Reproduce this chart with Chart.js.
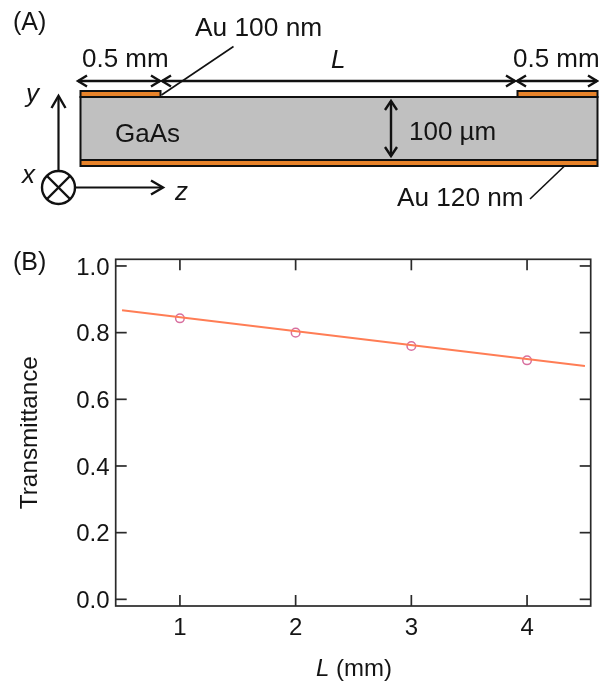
<!DOCTYPE html>
<html>
<head>
<meta charset="utf-8">
<style>
    html, body { margin: 0; padding: 0; background: #fff; }
    canvas { display: block; }
</style>
<script src="https://cdn.jsdelivr.net/npm/chart.js@4"></script>
</head>
<body>
<canvas id="myChart" width="599" height="681"></canvas>
<script>
const measured_L = [1, 2, 3, 4];
const measured_T = [0.843, 0.80, 0.76, 0.717];
const fit_L = [0.5, 4.5];
const fit_T = [0.867, 0.70];
const x_ticks = [1, 2, 3, 4];
const y_ticks = [0, 0.2, 0.4, 0.6, 0.8, 1.0];

const FONT = '"Liberation Sans", Arial, sans-serif';
const INK = "#141414";
const ORANGE = "#e8832a";

function toPoints(xs, ys) {
    return xs.map((x, i) => ({ x: x, y: ys[i] }));
}

function line(ctx, x1, y1, x2, y2, w) {
    ctx.lineWidth = w;
    ctx.beginPath();
    ctx.moveTo(x1, y1);
    ctx.lineTo(x2, y2);
    ctx.stroke();
}

// open arrow head, tip at x,y, pointing along dx,dy
function head(ctx, x, y, dx, dy, len, half) {
    let px = -dy, py = dx;
    ctx.lineWidth = 2.4;
    ctx.beginPath();
    ctx.moveTo(x - dx * len + px * half, y - dy * len + py * half);
    ctx.lineTo(x, y);
    ctx.lineTo(x - dx * len - px * half, y - dy * len - py * half);
    ctx.stroke();
}

function text(ctx, str, x, y, size, italic) {
    ctx.font = (italic ? "italic " : "") + size + "px " + FONT;
    ctx.fillText(str, x, y);
}

function drawSample(ctx) {
    ctx.strokeStyle = "#111";
    ctx.fillStyle = "#c0c0c0";
    ctx.fillRect(80, 97, 518, 63);

    ctx.fillStyle = ORANGE;
    ctx.fillRect(80, 160, 518, 5);
    ctx.fillRect(81, 92, 79, 4);
    ctx.fillRect(518, 92, 79, 4);

    ctx.lineWidth = 2;
    ctx.strokeRect(80.5, 97, 517, 69);
    line(ctx, 80, 160, 598, 160, 2);
    ctx.strokeRect(80.5, 91, 80, 6);
    ctx.strokeRect(517.5, 91, 80, 6);

    // dimension arrows
    line(ctx, 78, 81, 160, 81, 2.4);
    head(ctx, 78, 81, -1, 0, 9, 5.5);
    head(ctx, 160, 81, 1, 0, 9, 5.5);
    line(ctx, 162, 81, 515, 81, 2.4);
    head(ctx, 162, 81, -1, 0, 9, 5.5);
    head(ctx, 515, 81, 1, 0, 9, 5.5);
    line(ctx, 517, 81, 597, 81, 2.4);
    head(ctx, 517, 81, -1, 0, 9, 5.5);
    head(ctx, 597, 81, 1, 0, 9, 5.5);

    line(ctx, 391, 101, 391, 156, 2.4);
    head(ctx, 391, 101, 0, -1, 9, 6);
    head(ctx, 391, 156, 0, 1, 9, 6);

    // leaders
    line(ctx, 233.5, 46.5, 161.5, 95, 1.6);
    line(ctx, 564, 166.5, 530, 199, 1.6);

    // axes
    line(ctx, 58.5, 171, 58.5, 96, 2.2);
    head(ctx, 58.5, 96, 0, -1, 12, 7);
    line(ctx, 76, 187.5, 163, 187.5, 2.2);
    head(ctx, 163, 187.5, 1, 0, 12, 7);
    ctx.lineWidth = 2.4;
    ctx.beginPath();
    ctx.arc(58.5, 187.5, 16.5, 0, Math.PI * 2);
    ctx.stroke();
    line(ctx, 47, 176, 70, 199, 2.4);
    line(ctx, 70, 176, 47, 199, 2.4);

    ctx.fillStyle = INK;
    ctx.textAlign = "left";
    ctx.textBaseline = "alphabetic";
    text(ctx, "(A)", 13, 30, 25);
    text(ctx, "(B)", 13, 270, 25);
    text(ctx, "Au 100 nm", 195, 36, 26.3);
    text(ctx, "0.5 mm", 82, 66.5, 26);
    text(ctx, "0.5 mm", 513, 66.5, 26);
    text(ctx, "L", 331, 68, 26, true);
    text(ctx, "GaAs", 115, 142, 26);
    text(ctx, "100 µm", 409, 139.5, 26);
    text(ctx, "Au 120 nm", 397, 206, 26.2);
    text(ctx, "y", 26, 102, 26, true);
    text(ctx, "x", 22, 183, 26, true);
    text(ctx, "z", 175, 200, 26, true);
}

const framePlugin = {
    id: "frame",
    afterDatasetsDraw(chart) {
        const ctx = chart.ctx;
        const a = chart.chartArea;
        const sx = chart.scales.x;
        const sy = chart.scales.y;
        ctx.save();
        ctx.strokeStyle = "#2a2a2a";
        ctx.lineWidth = 1.7;
        ctx.strokeRect(a.left, a.top, a.right - a.left, a.bottom - a.top);
        ctx.fillStyle = INK;
        ctx.font = "24px " + FONT;
        ctx.textBaseline = "alphabetic";
        // ticks point inward on all four sides
        ctx.textAlign = "center";
        x_ticks.forEach((v) => {
            let px = sx.getPixelForValue(v);
            line(ctx, px, a.bottom, px, a.bottom - 11, 1.7);
            line(ctx, px, a.top, px, a.top + 11, 1.7);
            ctx.fillText(String(v), px, 635);
        });
        ctx.textAlign = "right";
        y_ticks.forEach((v) => {
            let py = sy.getPixelForValue(v);
            line(ctx, a.left, py, a.left + 11, py, 1.7);
            line(ctx, a.right, py, a.right - 11, py, 1.7);
            ctx.fillText(v.toFixed(1), 109.5, py + 8.7);
        });

        ctx.textAlign = "left";
        text(ctx, "L", 316, 676, 24, true);
        text(ctx, " (mm)", 329.3, 676, 24);

        drawSample(ctx);
        ctx.restore();
    },
};

const data = {
    datasets: [
        {
            label: "Fit",
            data: toPoints(fit_L, fit_T),
            showLine: true,
            borderColor: "#ff7d55",
            borderWidth: 2,
            pointRadius: 0,
        },
        {
            label: "Measured",
            data: toPoints(measured_L, measured_T),
            showLine: false,
            pointStyle: "circle",
            pointRadius: 4.3,
            pointBorderWidth: 1.5,
            pointBorderColor: "#d8709f",
            pointBackgroundColor: "rgba(0,0,0,0)",
        },
    ],
};

const config = {
    type: "scatter",
    data: data,
    options: {
        responsive: false,
        animation: false,
        layout: { padding: { top: 259.3, right: 8.3, left: 0, bottom: 0 } },
        plugins: {
            legend: { display: false },
            tooltip: { enabled: false },
        },
        scales: {
            x: {
                type: "linear",
                min: 0.445,
                max: 4.55,
                afterBuildTicks: (s) => { s.ticks = x_ticks.map((v) => ({ value: v })); },
                afterFit: (s) => { s.height = 75; },
                grid: { display: false, drawTicks: false },
                border: { display: false },
                ticks: { display: false },
            },
            y: {
                type: "linear",
                min: -0.02,
                max: 1.02,
                afterBuildTicks: (s) => { s.ticks = y_ticks.map((v) => ({ value: v })); },
                afterFit: (s) => { s.width = 115.7; },
                grid: { display: false, drawTicks: false },
                border: { display: false },
                title: {
                    display: true,
                    text: "Transmittance",
                    color: INK,
                    padding: { top: 15.5, bottom: 0 },
                    font: { family: FONT, size: 24.3 },
                },
                ticks: { display: false },
            },
        },
    },
    plugins: [framePlugin],
};

const myChart = new Chart(document.getElementById("myChart"), config);
</script>
</body>
</html>
